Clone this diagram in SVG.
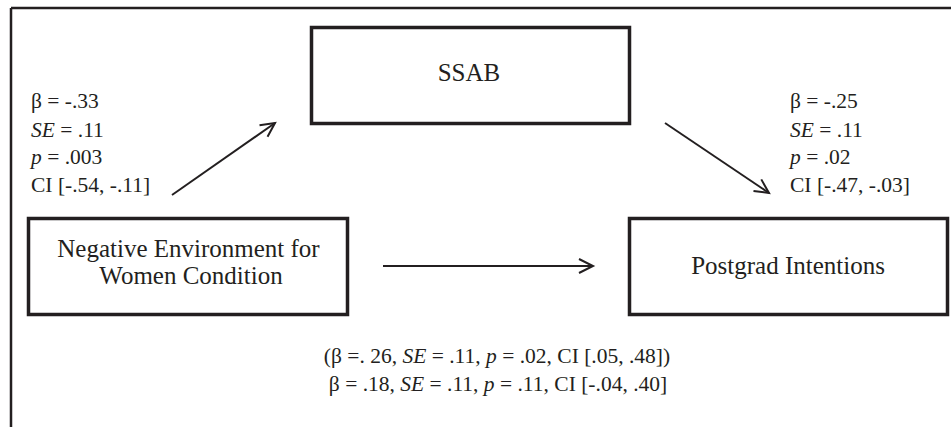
<svg xmlns="http://www.w3.org/2000/svg" width="951" height="427" viewBox="0 0 951 427">
<style>
.box{fill:#fff;stroke:#231f20;stroke-width:3.5}
.t{font-family:'Liberation Serif','Times New Roman','DejaVu Serif',serif;fill:#231f20}
.lbl{font-size:25px;text-anchor:middle}
.st{font-size:21.5px}
.conn{stroke:#231f20;stroke-width:2;fill:none}
</style>
<defs>
<marker id="ah" markerUnits="userSpaceOnUse" markerWidth="20" markerHeight="20" viewBox="-16 -10 20 20" refX="0" refY="0" orient="auto">
<path d="M-14,-7 L0,0 L-14,7" fill="none" stroke="#231f20" stroke-width="2"/>
</marker>
</defs>
<rect width="951" height="427" fill="#fff"/>
<g id="frame">
<line x1="11" y1="8" x2="951" y2="8" stroke="#231f20" stroke-width="2.5"/>
<line x1="11" y1="8" x2="11" y2="427" stroke="#231f20" stroke-width="2.5"/>
</g>
<g id="ssab">
<rect class="box" x="311.5" y="27.5" width="318" height="96"/>
<text class="t lbl" x="469" y="81">SSAB</text>
</g>
<g id="negenv">
<rect class="box" x="28.5" y="218.5" width="319" height="96"/>
<text class="t lbl" x="188.5" y="257">Negative Environment for</text>
<text class="t lbl" x="191" y="284">Women Condition</text>
</g>
<g id="postgrad">
<rect class="box" x="629.5" y="218.5" width="318" height="96"/>
<text class="t lbl" x="788" y="274">Postgrad Intentions</text>
</g>
<g id="connectors">
<line class="conn" x1="172" y1="195" x2="275" y2="123" marker-end="url(#ah)"/>
<line class="conn" x1="665" y1="123" x2="769" y2="193" marker-end="url(#ah)"/>
<line class="conn" x1="383" y1="266" x2="593" y2="266" marker-end="url(#ah)"/>
</g>
<g id="stats-a" class="t st">
<text x="31" y="108">β = -.33</text>
<text x="31" y="137"><tspan font-style="italic">SE</tspan> = .11</text>
<text x="31" y="164"><tspan font-style="italic">p</tspan> = .003</text>
<text x="31" y="192">CI [-.54, -.11]</text>
</g>
<g id="stats-b" class="t st">
<text x="790" y="108">β = -.25</text>
<text x="790" y="137"><tspan font-style="italic">SE</tspan> = .11</text>
<text x="790" y="164"><tspan font-style="italic">p</tspan> = .02</text>
<text x="790" y="192">CI [-.47, -.03]</text>
</g>
<g id="stats-c" class="t st" text-anchor="middle">
<text x="497" y="363">(β =. 26, <tspan font-style="italic">SE</tspan> = .11, <tspan font-style="italic">p</tspan> = .02, CI [.05, .48])</text>
<text x="498" y="391">β = .18, <tspan font-style="italic">SE</tspan> = .11, <tspan font-style="italic">p</tspan> = .11, CI [-.04, .40]</text>
</g>
</svg>
